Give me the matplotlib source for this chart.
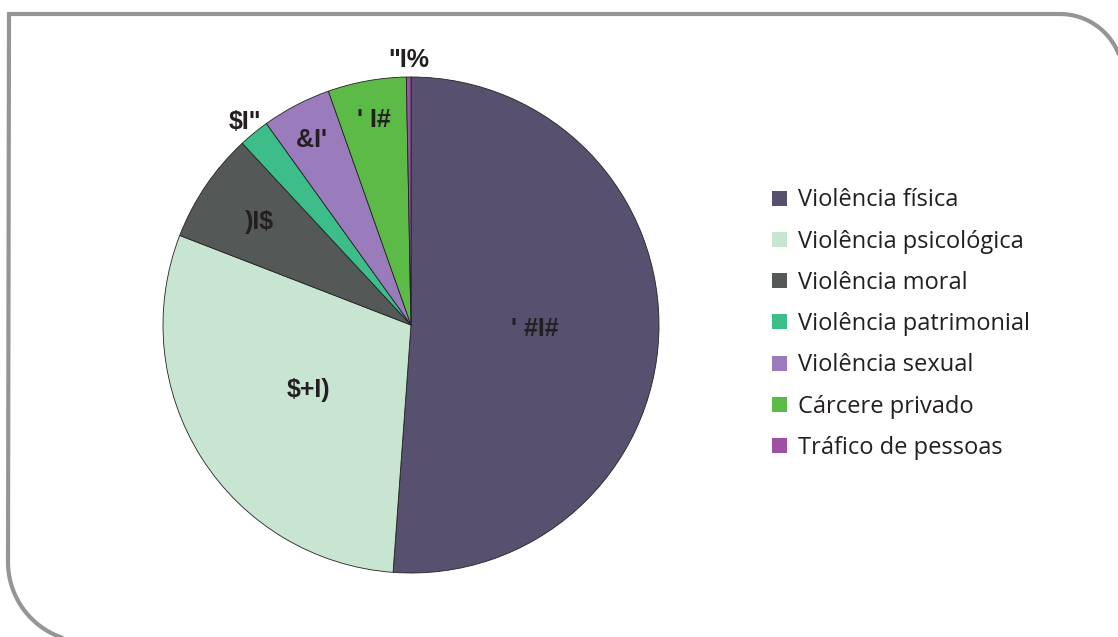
import numpy as np
import matplotlib.pyplot as plt
from matplotlib.path import Path
from matplotlib.patches import PathPatch, Patch

# Dados (percentagens)
categorias = ["Violência física", "Violência psicológica", "Violência moral",
              "Violência patrimonial", "Violência sexual", "Cárcere privado",
              "Tráfico de pessoas"]
valores = [51.1, 29.7, 7.2, 2.0, 4.5, 5.1, 0.3]
cores = ["#58506f", "#c8e5d1", "#545957", "#3dbd8a", "#9a7cbd", "#5cba47", "#9c51a7"]

# distância radial de cada rótulo (fração do raio)
dist_rotulos = [0.50, 0.49, 0.74, 1.06, 0.84, 0.84, 1.07]

# os rótulos do original aparecem com a fonte trocada
troca = str.maketrans({"0": '"', "1": "#", "2": "$", "3": "%", "4": "&",
                       "5": "' ", "6": "(", "7": ")", "8": "*", "9": "+", ",": "I"})

W, H = 1118, 637
fig = plt.figure(figsize=(W / 100, H / 100), dpi=100)

# moldura com cantos arredondados (coordenadas em pixels)
t1 = np.linspace(0, np.pi / 2, 30)
canto_sup = np.column_stack([1060 + 63 * np.cos(t1), 77 - 63 * np.sin(t1)])
t2 = np.linspace(np.pi, 1.5 * np.pi, 30)
canto_inf = np.column_stack([88 + 80 * np.cos(t2), 562 - 80 * np.sin(t2)])
pts = np.vstack([[[1123, 700]], canto_sup, [[9, 14]], canto_inf])
pts_fig = np.column_stack([pts[:, 0] / W, 1 - pts[:, 1] / H])
moldura = PathPatch(Path(pts_fig), transform=fig.transFigure, fill=False,
                    edgecolor="#959598", linewidth=3.0, clip_on=False,
                    joinstyle="miter")
fig.patches.append(moldura)

# gráfico de pizza
ax = fig.add_axes([163 / W, (H - 573) / H, 496 / W, 496 / H])
wedges, _ = ax.pie(valores, colors=cores, startangle=90, counterclock=False,
                   radius=1.0, wedgeprops=dict(edgecolor="#222222", linewidth=0.6))
ax.set_xlim(-1, 1)
ax.set_ylim(-1, 1)
ax.set_aspect("equal")
ax.axis("off")

for w, v, d in zip(wedges, valores, dist_rotulos):
    ang = np.deg2rad((w.theta1 + w.theta2) / 2)
    texto = f"{v:.1f}".replace(".", ",").translate(troca)
    ax.text(d * np.cos(ang), d * np.sin(ang), texto, ha="center", va="center",
            fontsize=18, fontweight="bold", color="#231f20", family="Liberation Sans")

# legenda
handles = [Patch(facecolor=c, edgecolor="none") for c in cores]
fig.legend(handles, categorias, loc="upper left", bbox_to_anchor=(763 / W, 1 - 179 / H),
           frameon=False, handlelength=0.6, handleheight=0.6,
           handletextpad=0.5, labelspacing=0.73, borderaxespad=0,
           labelcolor="#231f20", prop={"family": "Open Sans", "size": 17})

fig.savefig("out.png", dpi=100)
